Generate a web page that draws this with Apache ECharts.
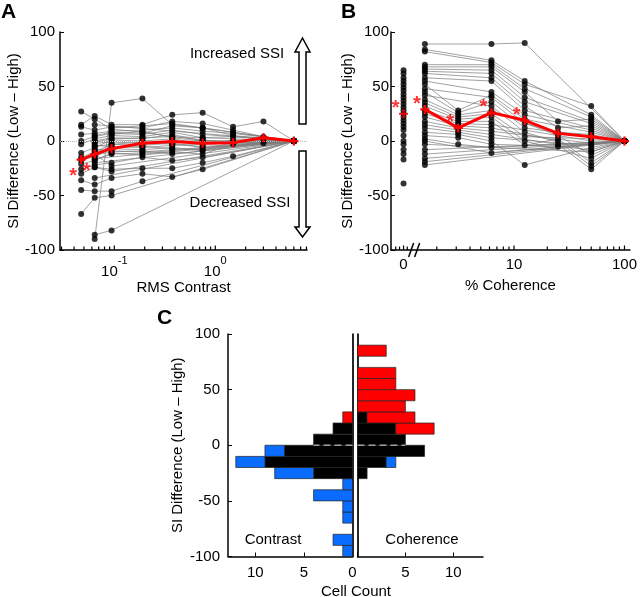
<!DOCTYPE html>
<html><head><meta charset="utf-8">
<script src="https://cdn.jsdelivr.net/npm/echarts@6/dist/echarts.min.js"></script>
<style>html,body{margin:0;padding:0;background:#fff}#c{width:640px;height:597px}</style>
</head><body><div id="c"></div>
<script>
// ---------- Panel A: RMS contrast ----------
const contrastLevels = [0.047, 0.064, 0.094, 0.19, 0.375, 0.75, 1.5, 3, 6];
const contrastCells = [
  [27, 20, 11, 8, 4, 3, null, null, 0],
  [15, 23, 15, 15, 24, 26, 13, 18, 0],
  [13, 10, 13, 12, 18, 16, 10, 4, 0],
  [6, 7, 9, 10, 12, 9, 7, null, 0],
  [0, 4, 7, 6, 10, 6, null, 2, 0],
  [-3, 2, 5, 4, 8, 3, 4, null, 0],
  [-11, -6, 1, 0, 2, -3, 1, 0, 0],
  [-15, -10, -3, -4, -2, -6, null, null, 0],
  [-18, -14, -7, -8, -6, -9, -1, null, 0],
  [-21, -18, -11, -13, -10, -12, -3, null, 0],
  [-26, -22, -20, -15, -18, -15, null, null, 0],
  [-30, -24, -26, -25, -25, -20, -14, null, 0],
  [-36, -40, -34, -30, -33, -26, null, null, 0],
  [-45, -46, -46, -37, null, null, null, null, 0],
  [-67, -52, -50, null, null, null, null, null, 0],
  [null, -90, 35, 39, 15, 12, null, null, 0],
  [null, -86, -82, null, null, null, null, null, 0],
  [null, 0, 3, 2, 6, 0, null, -2, 0],
  [null, -2, -1, -2, 0, null, null, null, 0],
  [null, -4, -5, -6, -4, null, null, null, 0],
  [null, -8, -9, -10, -8, null, null, null, 0],
  [null, -12, -23, null, null, null, null, null, 0],
  [null, -16, null, null, null, null, null, null, 0],
  [null, -20, null, null, null, null, null, null, 0],
  [null, -34, null, null, null, null, null, null, 0],
  [null, 15, null, null, null, null, null, null, 0],
  [null, 5, 8, 7, 14, 12, 5, null, 0],
  [null, -1, 2, 3, 4, 1, -1, null, 0],
  [null, -5, -3, -1, -3, -5, null, null, 0],
  [null, -9, -6, -5, -7, -8, null, null, 0],
  [null, -13, -10, -9, -12, null, null, null, 0],
  [null, -17, -12, -11, null, null, null, null, 0],
  [null, -24, -28, null, null, null, null, null, 0],
  [null, null, 12, 14, 16, 12, 8, null, 0],
  [null, null, 6, 9, 3, 0, null, null, 0]
];
const contrastMean = [-17, -12, -7, -2, -0.5, -2, -1.5, 3, 0];
const contrastSig = [1, 1, 0, 0, 0, 0, 0, 0, 0];

// ---------- Panel B: % coherence ----------
const coherenceZeroLabelPos = 1;          // axis position where the "0" column is drawn (broken axis)
const coherenceLevels = [1.56, 3.125, 6.25, 12.5, 25, 50, 100];
const coherenceZeroValues = [65, 62, 58, 55, 52, 49, 46, 43, 40, 37, 34, 31, 28, 25, 22, 19, 16, 13, 10, 5, 0, -3, -8, -12, -17, -39];
const coherenceZeroMean = 25;
const coherenceZeroSig = 1;
const coherenceCells = [
  [89, null, 89, 90, null, null, 0],
  [84, null, 74, 55, null, 24, 0],
  [82, null, 72, 52, null, 32, 0],
  [70, null, 70, 48, null, 22, 0],
  [68, null, 68, 45, 18, 20, 0],
  [66, null, 65, 40, null, 18, 0],
  [64, null, 62, 36, null, 16, 0],
  [62, null, 58, 32, 12, 14, 0],
  [58, null, 55, 28, null, 12, 0],
  [55, null, 45, 24, null, 10, 0],
  [52, 28, 42, 20, null, 8, 0],
  [48, null, 40, 16, 8, 6, 0],
  [45, 26, 36, 12, null, 4, 0],
  [42, null, 32, 8, null, -10, 0],
  [38, 24, 28, null, 5, -13, 0],
  [35, 22, 25, 4, null, 2, 0],
  [32, 20, 22, 0, null, -16, 0],
  [28, 18, 18, -4, 2, -20, 0],
  [25, 16, 15, null, null, 0, 0],
  [22, 14, 12, null, 0, -23, 0],
  [18, 12, 9, null, null, -2, 0],
  [15, 10, 6, null, -3, -26, 0],
  [12, 8, 3, null, null, -4, 0],
  [8, 6, 0, -22, null, -6, 0],
  [5, 3, -3, null, -5, -8, 0],
  [2, -3, -6, null, null, null, 0],
  [0, null, -11, null, null, null, 0],
  [-3, null, null, null, null, -10, 0],
  [-8, null, null, null, null, null, 0],
  [-12, null, null, null, null, null, 0],
  [-16, null, null, null, null, null, 0],
  [-19, null, null, null, null, null, 0],
  [-22, null, null, null, null, null, 0]
];
const coherenceMean = [29, 12, 26, 19, 7, 4, 0];
const coherenceSig = [1, 1, 1, 1, 0, 0, 0];

// ---------- Panel C: histograms ----------
const binWidth = 10;
const binLower = [-100, -90, -80, -70, -60, -50, -40, -30, -20, -10, 0, 10, 20, 30, 40, 50, 60, 70, 80, 90];
const contrastNonSig  = [0, 0, 0, 0, 0, 0, 0, 4, 9, 7, 4, 2, 0, 0, 0, 0, 0, 0, 0, 0];
const contrastSigNeg  = [1, 2, 0, 1, 1, 4, 1, 4, 3, 2, 0, 0, 0, 0, 0, 0, 0, 0, 0, 0];
const contrastSigPos  = [0, 0, 0, 0, 0, 0, 0, 0, 0, 0, 0, 0, 1, 0, 0, 0, 0, 0, 0, 0];
const coherenceNonSig = [0, 0, 0, 0, 0, 0, 0, 1, 3, 7, 5, 4, 1, 0, 0, 0, 0, 0, 0, 0];
const coherenceSigNeg = [0, 0, 0, 0, 0, 0, 0, 0, 1, 0, 0, 0, 0, 0, 0, 0, 0, 0, 0, 0];
const coherenceSigPos = [0, 0, 0, 0, 0, 0, 0, 0, 0, 0, 0, 4, 5, 5, 6, 4, 4, 0, 3, 0];

const FONT = '"Liberation Sans", Arial, Helvetica, sans-serif';
const RED = '#ff0000', BLUE = '#0a6cff';
const txt = {color: '#000', fontFamily: FONT, fontSize: 15};

function tickList(lo, hi, exps) {
  const out = [];
  exps.forEach(function (e) {
    for (let m = 1; m <= 9; m++) {
      const v = m * Math.pow(10, e);
      if (v >= lo && v <= hi) out.push([v, m === 1 ? 1 : 0]);
    }
  });
  return out;
}

const series = [];
// zero reference line in A
series.push({type: 'line', xAxisIndex: 0, yAxisIndex: 0, data: [], silent: true, z: 1,
  markLine: {silent: true, symbol: 'none', label: {show: false}, animation: false,
    lineStyle: {color: '#b5b5b5', type: 'dotted', width: 1}, data: [{yAxis: 0}]}});

// A cell lines + dots
const aDots = [];
contrastCells.forEach(cell => {
  const pts = [];
  cell.forEach((v, i) => { if (v !== null) pts.push([contrastLevels[i], v]); });
  pts.forEach(p => aDots.push(p));
  series.push({type: 'line', xAxisIndex: 0, yAxisIndex: 0, data: pts, symbol: 'none', silent: true, z: 2,
    lineStyle: {color: '#7a7a7a', width: 0.7}});
});
series.push({type: 'scatter', xAxisIndex: 0, yAxisIndex: 0, data: aDots, symbolSize: 6, itemStyle: {color: '#000'}, z: 3, silent: true});
const plusPath = 'path://M3,0H5V3H8V5H5V8H3V5H0V3H3Z';
series.push({type: 'line', xAxisIndex: 0, yAxisIndex: 0, data: contrastLevels.map((x, i) => [x, contrastMean[i]]),
  lineStyle: {color: RED, width: 3}, itemStyle: {color: RED}, symbol: plusPath, symbolSize: 9, z: 5, silent: true});
series.push({type: 'scatter', xAxisIndex: 0, yAxisIndex: 0, z: 6, silent: true, symbolSize: 1,
  itemStyle: {color: 'rgba(0,0,0,0)'},
  data: contrastLevels.map((x, i) => [x, contrastMean[i]]).filter((p, i) => contrastSig[i]),
  label: {show: true, position: 'inside', formatter: '*', offset: [-8, 17], color: RED, fontSize: 20, fontWeight: 'bold', fontFamily: FONT}});

// B cell lines + dots
const bDots = [];
coherenceCells.forEach(cell => {
  const pts = [];
  cell.forEach((v, i) => { if (v !== null) pts.push([coherenceLevels[i], v]); });
  pts.forEach(p => bDots.push(p));
  series.push({type: 'line', xAxisIndex: 1, yAxisIndex: 1, data: pts, symbol: 'none', silent: true, z: 2,
    lineStyle: {color: '#7a7a7a', width: 0.7}});
});
coherenceZeroValues.forEach(v => bDots.push([coherenceZeroLabelPos, v]));
series.push({type: 'scatter', xAxisIndex: 1, yAxisIndex: 1, data: bDots, symbolSize: 6, itemStyle: {color: '#000'}, z: 3, silent: true});
series.push({type: 'line', xAxisIndex: 1, yAxisIndex: 1, data: coherenceLevels.map((x, i) => [x, coherenceMean[i]]),
  lineStyle: {color: RED, width: 3}, itemStyle: {color: RED}, symbol: plusPath, symbolSize: 9, z: 5, silent: true});
series.push({type: 'scatter', xAxisIndex: 1, yAxisIndex: 1, data: [[coherenceZeroLabelPos, coherenceZeroMean]],
  symbol: plusPath, symbolSize: 9, itemStyle: {color: RED}, z: 5, silent: true});
const bSigPts = coherenceLevels.map((x, i) => [x, coherenceMean[i]]).filter((p, i) => coherenceSig[i]);
if (coherenceZeroSig) bSigPts.push([coherenceZeroLabelPos, coherenceZeroMean]);
series.push({type: 'scatter', xAxisIndex: 1, yAxisIndex: 1, z: 6, silent: true, symbolSize: 1,
  itemStyle: {color: 'rgba(0,0,0,0)'}, data: bSigPts,
  label: {show: true, position: 'inside', formatter: '*', offset: [-8, -5], color: RED, fontSize: 20, fontWeight: 'bold', fontFamily: FONT}});

// C histograms
const histColors = ['#000', BLUE, RED];
function histData(nonSig, neg, pos) {
  const out = [];
  binLower.forEach((lo, i) => {
    if (nonSig[i] > 0) out.push([lo, 0, nonSig[i], 0]);
    if (neg[i] > 0) out.push([lo, nonSig[i], nonSig[i] + neg[i], 1]);
    if (pos[i] > 0) out.push([lo, nonSig[i], nonSig[i] + pos[i], 2]);
  });
  return out;
}
function histRender(params, api) {
  const lo = api.value(0), a = api.value(1), b = api.value(2), ci = api.value(3);
  const p0 = api.coord([a, lo + binWidth]);
  const p1 = api.coord([b, lo]);
  return {type: 'rect', shape: {x: Math.min(p0[0], p1[0]), y: Math.min(p0[1], p1[1]),
    width: Math.abs(p1[0] - p0[0]), height: Math.abs(p1[1] - p0[1])},
    style: {fill: histColors[ci], stroke: '#222', lineWidth: 0.7}};
}
series.push({type: 'custom', xAxisIndex: 2, yAxisIndex: 2, renderItem: histRender, encode: {x: 1, y: 0}, silent: true, z: 2,
  data: histData(contrastNonSig, contrastSigNeg, contrastSigPos)});
series.push({type: 'custom', xAxisIndex: 3, yAxisIndex: 4, renderItem: histRender, encode: {x: 1, y: 0}, silent: true, z: 2,
  data: histData(coherenceNonSig, coherenceSigNeg, coherenceSigPos)});
const zeroBin = binLower.indexOf(0);
series.push({type: 'line', xAxisIndex: 2, yAxisIndex: 2, data: [[0, 0], [contrastNonSig[zeroBin], 0]], symbol: 'none', silent: true, z: 4,
  lineStyle: {color: '#a0a0a0', width: 1.5, type: [7, 4]}});
series.push({type: 'line', xAxisIndex: 3, yAxisIndex: 4, data: [[0, 0], [coherenceNonSig[zeroBin], 0]], symbol: 'none', silent: true, z: 4,
  lineStyle: {color: '#a0a0a0', width: 1.5, type: [7, 4]}});

const axLine = {show: true, onZero: false, lineStyle: {color: '#000', width: 1.5}};
const yTicksIn = {show: true, inside: true, length: 4, lineStyle: {color: '#000', width: 1}};
const yName = 'SI Difference (Low – High)';

function powLabel(v) {
  const e = Math.log10(v), r = Math.round(e);
  if (Math.abs(e - r) > 1e-6) return '';
  return '{b|10}{s|' + r + '}';
}
function cohLabel(v) {
  if (Math.abs(v - coherenceZeroLabelPos) < 1e-6) return '0';
  const e = Math.log10(v), r = Math.round(e);
  if (Math.abs(e - r) > 1e-6 || r < 1) return '';
  return String(Math.round(v));
}

const baseGraphic = [
  {type: 'text', x: 1, y: 2, style: {text: 'A', fill: '#000', font: 'bold 21px ' + FONT}},
  {type: 'text', x: 341, y: 2, style: {text: 'B', fill: '#000', font: 'bold 21px ' + FONT}},
  {type: 'text', x: 157, y: 308, style: {text: 'C', fill: '#000', font: 'bold 21px ' + FONT}},
  {type: 'text', x: 237, y: 54, style: {text: 'Increased SSI', fill: '#000', font: '15px ' + FONT, align: 'center', verticalAlign: 'middle'}},
  {type: 'text', x: 240, y: 203, style: {text: 'Decreased SSI', fill: '#000', font: '15px ' + FONT, align: 'center', verticalAlign: 'middle'}},
  {type: 'polygon', shape: {points: [[302.5, 38], [310, 52], [306, 52], [306, 124], [299, 124], [299, 52], [295, 52]]},
    style: {fill: '#fff', stroke: '#000', lineWidth: 1.5}},
  {type: 'polygon', shape: {points: [[299, 151], [306, 151], [306, 227], [310, 227], [302.5, 237], [295, 227], [299, 227]]},
    style: {fill: '#fff', stroke: '#000', lineWidth: 1.5}},
  {type: 'text', x: 273, y: 540, style: {text: 'Contrast', fill: '#000', font: '15px ' + FONT, align: 'center', verticalAlign: 'middle'}},
  {type: 'text', x: 422, y: 540, style: {text: 'Coherence', fill: '#000', font: '15px ' + FONT, align: 'center', verticalAlign: 'middle'}},
  {type: 'text', x: 356, y: 592, style: {text: 'Cell Count', fill: '#000', font: '15px ' + FONT, align: 'center', verticalAlign: 'middle'}}
];

const option = {
  animation: false,
  backgroundColor: '#fff',
  grid: [
    {left: 60, top: 32, width: 247, height: 218},
    {left: 391, top: 32, width: 240, height: 218},
    {left: 228, top: 334, width: 124.5, height: 222.5},
    {left: 357.5, top: 334, width: 125.5, height: 222.5}
  ],
  xAxis: [
    {gridIndex: 0, type: 'log', logBase: 10, min: 0.029, max: 8.1, axisLine: axLine, axisTick: {show: false}, splitLine: {show: false},
      axisLabel: {formatter: powLabel, margin: 5, rich: {
        b: {fontSize: 15, fontFamily: FONT, color: '#000', lineHeight: 24, verticalAlign: 'bottom'},
        s: {fontSize: 11, fontFamily: FONT, color: '#000', verticalAlign: 'top'}}},
      name: 'RMS Contrast', nameLocation: 'middle', nameGap: 28, nameTextStyle: txt},
    {gridIndex: 1, type: 'log', logBase: 10, min: 0.77, max: 112, axisLine: axLine, axisTick: {show: false}, splitLine: {show: false},
      axisLabel: Object.assign({formatter: cohLabel, margin: 7}, txt),
      name: '% Coherence', nameLocation: 'middle', nameGap: 28, nameTextStyle: txt},
    {gridIndex: 2, type: 'value', inverse: true, min: 0, max: 12.8, interval: 5, axisLine: axLine,
      axisTick: {show: true, inside: true, length: 4, lineStyle: {color: '#000'}}, splitLine: {show: false},
      axisLabel: Object.assign({margin: 9, showMaxLabel: false}, txt)},
    {gridIndex: 3, type: 'value', min: 0, max: 13.1, interval: 5, axisLine: axLine,
      axisTick: {show: true, inside: true, length: 4, lineStyle: {color: '#000'}}, splitLine: {show: false},
      axisLabel: Object.assign({margin: 9, showMaxLabel: false, formatter: v => v === 0 ? '' : String(v)}, txt)}
  ],
  yAxis: [
    {gridIndex: 0, type: 'value', min: -100, max: 100, interval: 50, axisLine: axLine, axisTick: yTicksIn, splitLine: {show: false},
      axisLabel: Object.assign({margin: 5}, txt), name: yName, nameLocation: 'middle', nameGap: 32, nameTextStyle: txt},
    {gridIndex: 1, type: 'value', min: -100, max: 100, interval: 50, axisLine: axLine, axisTick: yTicksIn, splitLine: {show: false},
      axisLabel: Object.assign({margin: 2}, txt), name: yName, nameLocation: 'middle', nameGap: 28, nameTextStyle: txt},
    {gridIndex: 2, type: 'value', min: -100, max: 100, interval: 50, axisLine: axLine, axisTick: yTicksIn, splitLine: {show: false},
      axisLabel: Object.assign({margin: 8}, txt), name: yName, nameLocation: 'middle', nameGap: 43, nameTextStyle: txt},
    {gridIndex: 2, type: 'value', position: 'right', min: -100, max: 100, interval: 50,
      axisLine: {show: true, onZero: false, lineStyle: {color: '#000', width: 1.7}}, axisTick: {show: false}, axisLabel: {show: false}, splitLine: {show: false}},
    {gridIndex: 3, type: 'value', min: -100, max: 100, interval: 50,
      axisLine: {show: true, onZero: false, lineStyle: {color: '#000', width: 1.7}}, axisTick: {show: false}, axisLabel: {show: false}, splitLine: {show: false}}
  ],
  graphic: baseGraphic,
  series: series
};
const chart = echarts.init(document.getElementById('c'), null, {renderer: 'canvas'});
chart.setOption(option);

// log-axis tick marks (positions through the library's own axis scales)
const extraGraphic = [];
function addTicks(xi, yi, list) {
  list.forEach(function (t) {
    const p = chart.convertToPixel({xAxisIndex: xi, yAxisIndex: yi}, [t[0], -100]);
    if (!p) return;
    const len = t[1] ? 4.5 : 3.5;
    extraGraphic.push({type: 'line', z: 100, silent: true,
      shape: {x1: p[0], y1: p[1], x2: p[0], y2: p[1] - len}, style: {stroke: '#000', lineWidth: 1.2}});
  });
}
addTicks(0, 0, tickList(0.029, 8.1, [-2, -1, 0]));
addTicks(1, 1, tickList(1.5, 112, [0, 1, 2]).concat([[0.85, 0], [0.92, 0], [1, 1], [1.08, 0]]));
// axis break marks on B
const brk = chart.convertToPixel({xAxisIndex: 1, yAxisIndex: 1}, [1.26, -100]);
if (brk) {
  extraGraphic.push({type: 'line', z: 100, silent: true, shape: {x1: brk[0] - 6, y1: brk[1] + 7, x2: brk[0] - 1, y2: brk[1] - 7}, style: {stroke: '#000', lineWidth: 1.5}});
  extraGraphic.push({type: 'line', z: 100, silent: true, shape: {x1: brk[0], y1: brk[1] + 7, x2: brk[0] + 5, y2: brk[1] - 7}, style: {stroke: '#000', lineWidth: 1.5}});
}
chart.setOption({graphic: baseGraphic.concat(extraGraphic)});
</script>
</body></html>
